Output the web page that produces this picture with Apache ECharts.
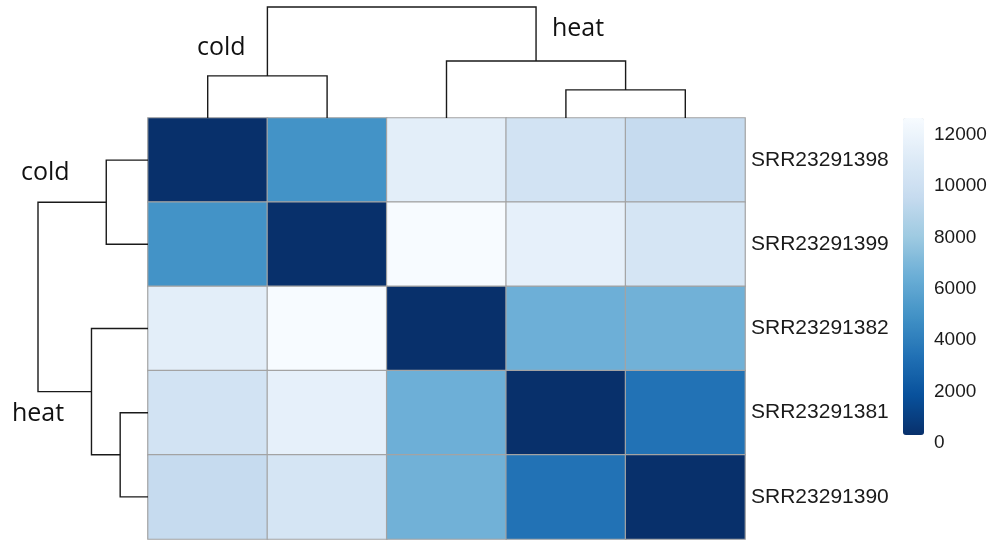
<!DOCTYPE html>
<html>
<head>
<meta charset="utf-8">
<script src="https://cdn.jsdelivr.net/npm/echarts@6/dist/echarts.min.js"></script>
<style>
html,body{margin:0;padding:0;background:#fff;}
#chart{width:995px;height:542px;}
</style>
</head>
<body>
<div id="chart"></div>
<script>
// ---- data ----
var samples = ['SRR23291398', 'SRR23291399', 'SRR23291382', 'SRR23291381', 'SRR23291390'];
// symmetric distance matrix (rows/cols in samples order)
var row1398 = [0, 4800, 11400, 10300, 9500];
var row1399 = [4800, 0, 12650, 11600, 10500];
var row1382 = [11400, 12650, 0, 6400, 6500];
var row1381 = [10300, 11600, 6400, 0, 3200];
var row1390 = [9500, 10500, 6500, 3200, 0];
var matrixRows = [row1398, row1399, row1382, row1381, row1390];
// hierarchical clustering (hclust style: negative = leaf index (1-based), positive = earlier merge)
var mergeA = [-1, -4, -3, 1];
var mergeB = [-2, -5, 2, 3];
var mergeHeight = [4800, 3200, 6500, 12650];
var colorTicks = [0, 2000, 4000, 6000, 8000, 10000, 12000];
var groupLabels = ['cold', 'heat'];
var blues = ['#08306b', '#08519c', '#2171b5', '#4292c6', '#6baed6', '#9ecae1', '#c6dbef', '#deebf7', '#f7fbff'];

// ---- derived ----
var heatData = [];
matrixRows.forEach(function (r, i) {
  r.forEach(function (v, j) { heatData.push([j, i, v]); });
});
var maxVal = Math.max.apply(null, matrixRows.map(function (r) { return Math.max.apply(null, r); }));

var clPos = [], clH = [];
var dendroSegs = [];
function nodeInfo(id) {
  if (id < 0) return { pos: -id - 1, h: 0 };
  return { pos: clPos[id - 1], h: clH[id - 1] };
}
for (var k = 0; k < mergeA.length; k++) {
  var a = nodeInfo(mergeA[k]), b = nodeInfo(mergeB[k]);
  clPos.push((a.pos + b.pos) / 2);
  clH.push(mergeHeight[k]);
  dendroSegs.push([a.pos, a.h, b.pos, b.h, mergeHeight[k]]);
}

var lineStyle = { stroke: '#1a1a1a', lineWidth: 1.4, fill: null };

function topRender(params, api) {
  var p1 = api.coord([api.value(0), api.value(1)]);
  var p2 = api.coord([api.value(0), api.value(4)]);
  var p3 = api.coord([api.value(2), api.value(4)]);
  var p4 = api.coord([api.value(2), api.value(3)]);
  return { type: 'polyline', shape: { points: [p1, p2, p3, p4] }, style: lineStyle };
}
function leftRender(params, api) {
  var p1 = api.coord([api.value(1), api.value(0)]);
  var p2 = api.coord([api.value(4), api.value(0)]);
  var p3 = api.coord([api.value(4), api.value(2)]);
  var p4 = api.coord([api.value(3), api.value(2)]);
  return { type: 'polyline', shape: { points: [p1, p2, p3, p4] }, style: lineStyle };
}

var hidden = { show: false };
var labelFont = 'Open Sans, sans-serif';
var chart = echarts.init(document.getElementById('chart'), null, { renderer: 'canvas' });
var option = {
  backgroundColor: '#ffffff',
  animation: false,
  grid: [
    { left: 148, top: 118, width: 597, height: 421 },
    { left: 148, top: 7, width: 597, height: 111 },
    { left: 38, top: 118, width: 110, height: 421 },
    { left: 903, top: 118, width: 21, height: 325 }
  ],
  xAxis: [
    { gridIndex: 0, type: 'category', data: samples, axisLine: hidden, axisTick: hidden, axisLabel: hidden, splitLine: hidden },
    { gridIndex: 1, type: 'value', min: -0.5, max: 4.5, show: false },
    { gridIndex: 2, type: 'value', min: 0, max: maxVal, inverse: true, show: false },
    { gridIndex: 3, type: 'value', min: 0, max: 1, show: false }
  ],
  yAxis: [
    { gridIndex: 0, type: 'category', data: samples, inverse: true, position: 'right',
      axisLine: hidden, axisTick: hidden, splitLine: hidden,
      axisLabel: { margin: 6, color: '#1a1a1a', fontSize: 21, fontFamily: 'Liberation Sans, Arial, sans-serif' } },
    { gridIndex: 1, type: 'value', min: 0, max: maxVal, show: false },
    { gridIndex: 2, type: 'value', min: -0.5, max: 4.5, inverse: true, show: false },
    { gridIndex: 3, type: 'value', min: 0, max: maxVal, interval: 2000, position: 'right',
      axisLine: hidden, axisTick: hidden, splitLine: hidden,
      axisLabel: { margin: 10, color: '#1a1a1a', fontSize: 19, fontFamily: 'Liberation Sans, Arial, sans-serif',
        showMaxLabel: false,
        formatter: function (v) { return colorTicks.indexOf(v) >= 0 ? String(v) : ''; } } }
  ],
  visualMap: {
    type: 'continuous', min: 0, max: maxVal, calculable: false, seriesIndex: 0,
    orient: 'vertical', left: 903, top: 118, itemWidth: 21, itemHeight: 317,
    padding: 0, text: ['', ''], showLabel: false, hoverLink: false,
    inRange: { color: blues }
  },
  series: [
    { type: 'heatmap', xAxisIndex: 0, yAxisIndex: 0, data: heatData,
      itemStyle: { borderColor: '#a3a3a3', borderWidth: 1.2 }, emphasis: { disabled: true } },
    { type: 'custom', xAxisIndex: 1, yAxisIndex: 1, data: dendroSegs, renderItem: topRender, silent: true },
    { type: 'custom', xAxisIndex: 2, yAxisIndex: 2, data: dendroSegs, renderItem: leftRender, silent: true },
    { type: 'scatter', xAxisIndex: 3, yAxisIndex: 3, data: [], silent: true }
  ],
  graphic: [
    { type: 'text', left: 197, top: 35, style: { text: groupLabels[0], fontSize: 25, fontFamily: labelFont, fill: '#111' } },
    { type: 'text', left: 552, top: 16, style: { text: groupLabels[1], fontSize: 25, fontFamily: labelFont, fill: '#111' } },
    { type: 'text', left: 21, top: 160, style: { text: groupLabels[0], fontSize: 25, fontFamily: labelFont, fill: '#111' } },
    { type: 'text', left: 12, top: 401, style: { text: groupLabels[1], fontSize: 25, fontFamily: labelFont, fill: '#111' } }
  ]
};
chart.setOption(option);
</script>
</body>
</html>
